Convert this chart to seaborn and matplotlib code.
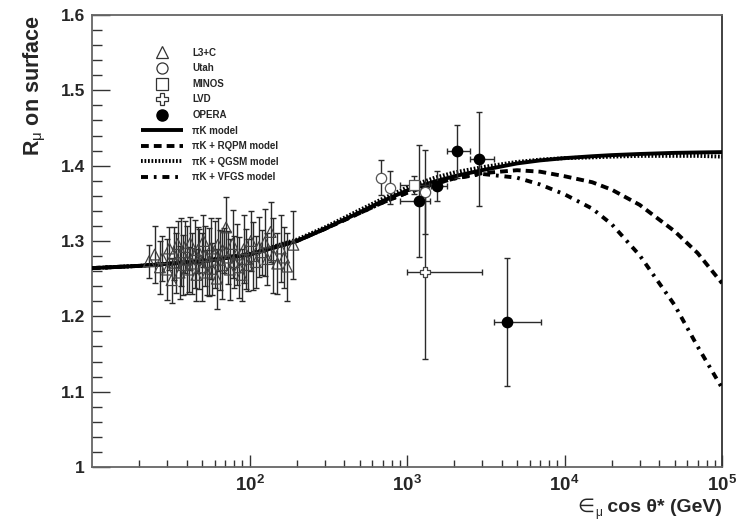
import numpy as np
import pandas as pd
import matplotlib
matplotlib.use("Agg")
import matplotlib.pyplot as plt
import seaborn as sns
from matplotlib.ticker import FixedLocator, NullFormatter, MultipleLocator, FuncFormatter
from matplotlib.lines import Line2D

# ---------------- data ----------------
# L3+C
l3c_x = [23, 25, 27, 28, 30, 31, 32, 33, 34, 35, 36, 37, 38, 39, 40, 41, 42, 43, 45, 46,
         47, 48, 50, 51, 52, 54, 55, 57, 58, 60, 62, 63, 65, 67, 69, 71, 73, 75, 78, 80,
         83, 86, 89, 92, 95, 98, 102, 106, 110, 115, 120, 125, 130, 136, 142, 150, 158, 166, 173, 190]
l3c_y = [1.273, 1.282, 1.265, 1.277, 1.262, 1.290, 1.248, 1.283, 1.271, 1.296, 1.258, 1.285, 1.268, 1.292, 1.275, 1.262, 1.297, 1.270, 1.283, 1.255,
         1.288, 1.276, 1.265, 1.300, 1.280, 1.258, 1.272, 1.290, 1.263, 1.282, 1.250, 1.295, 1.275, 1.268, 1.287, 1.318, 1.278, 1.262, 1.296, 1.272,
         1.282, 1.265, 1.255, 1.289, 1.276, 1.268, 1.300, 1.280, 1.272, 1.292, 1.285, 1.298, 1.276, 1.312, 1.281, 1.270, 1.290, 1.278, 1.266, 1.295]
l3c_err = [0.022, 0.038, 0.035, 0.030, 0.040, 0.028, 0.030, 0.035, 0.040, 0.030, 0.035, 0.045, 0.040, 0.035, 0.045, 0.030, 0.035, 0.040, 0.045, 0.035,
           0.030, 0.040, 0.045, 0.035, 0.040, 0.030, 0.045, 0.040, 0.035, 0.045, 0.040, 0.035, 0.040, 0.045, 0.030, 0.040, 0.035, 0.040, 0.045, 0.035,
           0.040, 0.040, 0.035, 0.045, 0.040, 0.035, 0.040, 0.045, 0.035, 0.040, 0.030, 0.045, 0.035, 0.040, 0.050, 0.040, 0.045, 0.040, 0.045, 0.045]

# Utah
utah_x = [684, 780, 1300]
utah_y = [1.384, 1.371, 1.365]
utah_err = [0.023, 0.022, 0.056]

# MINOS
minos_x = [1112]
minos_y = [1.374]
minos_err = [0.012]
minos_xlo = [903]
minos_xhi = [1370]

# LVD
lvd_x = [1300]
lvd_y = [1.259]
lvd_err = [0.116]
lvd_xlo = [1000]
lvd_xhi = [2993]

# OPERA
opera_x = [1197, 1542, 2075, 2865, 4315]
opera_y = [1.353, 1.373, 1.419, 1.409, 1.192]
opera_err = [0.074, 0.020, 0.035, 0.062, 0.085]
opera_xlo = [903, 1430, 1787, 2515, 3557]
opera_xhi = [1400, 1800, 2515, 3557, 7060]

# model curves
model_x = [10, 20, 50, 100, 200, 300, 500, 700, 1000, 1500, 2000, 3000, 5000, 7000,
           10000, 15000, 20000, 30000, 50000, 70000, 100000]
pik_y = [1.264, 1.267, 1.273, 1.282, 1.300, 1.316, 1.338, 1.353, 1.367, 1.379, 1.386, 1.394, 1.403, 1.407,
         1.410, 1.4125, 1.414, 1.4155, 1.417, 1.4175, 1.418]
rqpm_y = [1.264, 1.267, 1.273, 1.282, 1.300, 1.316, 1.337, 1.351, 1.364, 1.376, 1.383, 1.390, 1.394, 1.392,
          1.386, 1.378, 1.368, 1.348, 1.313, 1.284, 1.244]
qgsm_y = [1.264, 1.267, 1.274, 1.283, 1.302, 1.318, 1.341, 1.356, 1.371, 1.384, 1.391, 1.398, 1.405, 1.408,
          1.410, 1.411, 1.412, 1.413, 1.413, 1.413, 1.412]
vfgs_y = [1.264, 1.267, 1.273, 1.282, 1.300, 1.316, 1.337, 1.351, 1.364, 1.376, 1.383, 1.389, 1.384, 1.375,
          1.362, 1.343, 1.322, 1.281, 1.215, 1.160, 1.105]

x_ticks = [100, 1000, 10000, 100000]
x_tick_labels = [r"$\mathbf{10^{2}}$", r"$\mathbf{10^{3}}$", r"$\mathbf{10^{4}}$", r"$\mathbf{10^{5}}$"]

# ---------------- style ----------------
sns.set_theme(style="ticks")
plt.rcParams["font.family"] = ["Liberation Sans", "DejaVu Sans"]
plt.rcParams["mathtext.fontset"] = "custom"
plt.rcParams["mathtext.rm"] = "Liberation Sans"
plt.rcParams["mathtext.bf"] = "Liberation Sans:bold"
plt.rcParams["mathtext.it"] = "Liberation Sans:italic"

W, H = 746, 519
fig = plt.figure(figsize=(W / 100, H / 100), dpi=100)
ax = fig.add_axes([92 / W, 1 - 467 / H, 630 / W, 452 / H])

curves = pd.DataFrame({
    "x": model_x * 4,
    "y": pik_y + rqpm_y + qgsm_y + vfgs_y,
    "model": (["pik"] * len(model_x) + ["rqpm"] * len(model_x)
              + ["qgsm"] * len(model_x) + ["vfgs"] * len(model_x)),
})
styles = {
    "pik": (0, ()),
    "rqpm": (0, (2.0, 1.3)),
    "qgsm": (0, (0.45, 0.45)),
    "vfgs": (0, (1.8, 1.5, 0.7, 1.5)),
}
LW = 2.8
for name in ["vfgs", "rqpm", "qgsm", "pik"]:
    sub = curves[curves["model"] == name]
    sns.lineplot(data=sub, x="x", y="y", ax=ax, color="black", lw=LW,
                 linestyle=styles[name], legend=False, zorder=3)

ebkw = dict(capsize=2.2, elinewidth=1.0, capthick=1.0, ecolor="#2a2a2a", zorder=4)

# L3+C
ax.errorbar(l3c_x, l3c_y, yerr=l3c_err, fmt="none", **ebkw)
ax.scatter(l3c_x, l3c_y, marker="^", s=60, facecolors="none",
           edgecolors="#444444", linewidths=0.9, zorder=5)

# Utah
ax.errorbar(utah_x, utah_y, yerr=utah_err, fmt="none", **ebkw)
ax.scatter(utah_x, utah_y, marker="o", s=55, facecolors="white", edgecolors="#555555",
           linewidths=0.9, zorder=5)

# MINOS
m_xerr = [[minos_x[0] - minos_xlo[0]], [minos_xhi[0] - minos_x[0]]]
ax.errorbar(minos_x, minos_y, yerr=minos_err, xerr=m_xerr, fmt="none", **ebkw)
ax.scatter(minos_x, minos_y, marker="s", s=45, facecolors="white", edgecolors="#555555",
           linewidths=0.9, zorder=5)

# LVD
l_xerr = [[lvd_x[0] - lvd_xlo[0]], [lvd_xhi[0] - lvd_x[0]]]
ax.errorbar(lvd_x, lvd_y, yerr=lvd_err, xerr=l_xerr, fmt="none", **ebkw)
ax.scatter(lvd_x, lvd_y, marker="P", s=60, facecolors="white", edgecolors="#444444",
           linewidths=0.9, zorder=5)

# OPERA
o_xerr = [[a - b for a, b in zip(opera_x, opera_xlo)], [b - a for a, b in zip(opera_x, opera_xhi)]]
ax.errorbar(opera_x, opera_y, yerr=opera_err, xerr=o_xerr, fmt="none", **ebkw)
ax.scatter(opera_x, opera_y, marker="o", s=55, color="black", zorder=6)

# ---------------- axes ----------------
ax.set_xscale("log")
ax.set_xlim(10, 1e5)
ax.set_ylim(1.0, 1.6)
ax.set_xlabel("")
ax.set_ylabel("")
ax.xaxis.set_major_locator(FixedLocator(x_ticks))
ax.set_xticklabels(x_tick_labels)
minor = [m * 10 ** e for e in range(1, 5) for m in range(2, 10)]
ax.xaxis.set_minor_locator(FixedLocator(minor))
ax.xaxis.set_minor_formatter(NullFormatter())
ax.yaxis.set_major_locator(MultipleLocator(0.1))
ax.yaxis.set_minor_locator(MultipleLocator(0.02))
ax.yaxis.set_major_formatter(FuncFormatter(lambda v, p: "1" if abs(v - 1) < 1e-9 else f"{v:.1f}"))

ax.tick_params(axis="both", which="both", direction="in", color="#333333", width=1.0)
ax.tick_params(axis="y", which="major", length=13, pad=5, labelsize=12.5)
ax.tick_params(axis="y", which="minor", length=7)
ax.tick_params(axis="x", which="major", length=9, pad=6, labelsize=13.5)
ax.tick_params(axis="x", which="minor", length=5)
for lab in ax.get_yticklabels():
    lab.set_fontweight("bold")
for s in ax.spines.values():
    s.set_visible(True)
    s.set_color("#666666")
    s.set_linewidth(1.3)
ax.spines["right"].set_color("#333333")

# y label
fig.text(35 / W, 1 - 15 / H, r"R$_{\mathrm{\mu}}$ on surface", rotation=90, ha="center", va="top",
         fontsize=15.5, fontweight="bold")

# x label (pieces, so that the element-of sign comes from DejaVu Sans)
fs_x = 14
y_base = 1 - 512 / H
t_main = fig.text(722 / W, y_base, " cos \u03b8* (GeV)", ha="right", va="baseline",
                  fontsize=fs_x, fontweight="bold", parse_math=False)
fig.canvas.draw()
r = fig.canvas.get_renderer()
bb = t_main.get_window_extent(r)
t_mu = fig.text(bb.x0 / W, y_base - 4 / H, "\u03bc", ha="right", va="baseline",
                fontsize=fs_x * 0.62, parse_math=False)
fig.canvas.draw()
bb2 = t_mu.get_window_extent(r)
fig.text(bb2.x0 / W - 0.5 / W, y_base, "\u2208", ha="right", va="baseline",
         fontsize=fs_x, family=["DejaVu Sans"], parse_math=False)

# ---------------- legend ----------------
handles = [
    Line2D([], [], ls="none", marker="^", ms=8, mfc="white", mec="#333333", mew=0.9),
    Line2D([], [], ls="none", marker="o", ms=8, mfc="white", mec="#333333", mew=0.9),
    Line2D([], [], ls="none", marker="s", ms=8, mfc="white", mec="#333333", mew=0.9),
    Line2D([], [], ls="none", marker="P", ms=9, mfc="white", mec="#333333", mew=0.9),
    Line2D([], [], ls="none", marker="o", ms=8, color="black"),
    Line2D([], [], color="black", lw=LW, ls=styles["pik"]),
    Line2D([], [], color="black", lw=LW, ls=styles["rqpm"]),
    Line2D([], [], color="black", lw=LW, ls=styles["qgsm"]),
    Line2D([], [], color="black", lw=LW, ls=styles["vfgs"]),
]
labels = ["L3+C", "Utah", "MINOS", "LVD", "OPERA", "\u03c0K model", "\u03c0K + RQPM model",
          "\u03c0K + QGSM model", "\u03c0K + VFGS model"]
leg = ax.legend(handles, labels, loc="upper left", bbox_to_anchor=(136 / W, 1 - 43 / H),
                bbox_transform=fig.transFigure, frameon=False, fontsize=7,
                handlelength=4.3, handletextpad=1.0, labelspacing=0.57, borderpad=0)
for t in leg.get_texts():
    t.set_fontweight("bold")

fig.savefig("out.png", dpi=100)
